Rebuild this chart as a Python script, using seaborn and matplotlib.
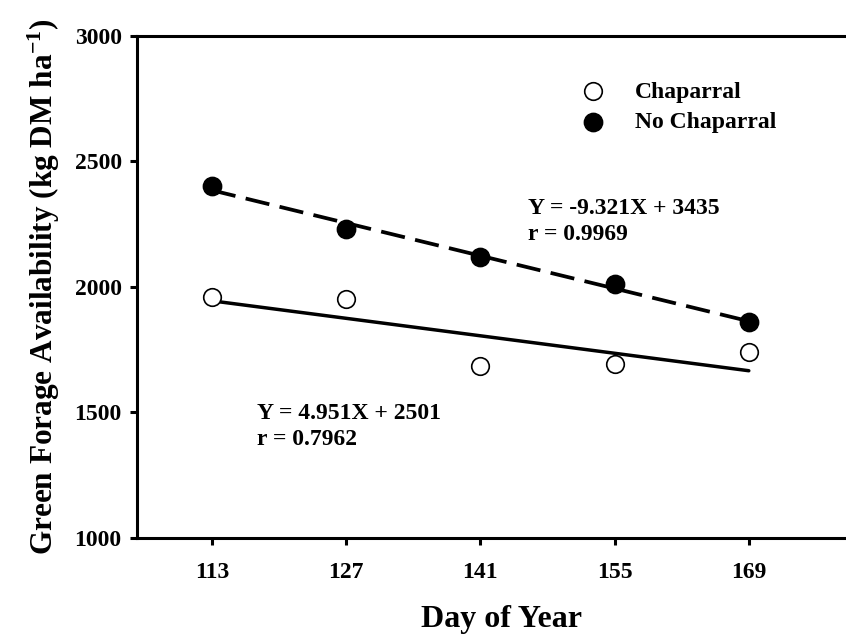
import numpy as np
import pandas as pd
import matplotlib
matplotlib.use("Agg")
import matplotlib.pyplot as plt
import seaborn as sns

# values
day = [113, 127, 141, 155, 169]
chaparral = [1960, 1950, 1684, 1692, 1741]
no_chaparral = [2402, 2230, 2119, 2010, 1860]

eq_chap = "Y = 4.951X + 2501\nr = 0.7962"
eq_nochap = "Y = -9.321X + 3435\nr = 0.9969"

sns.set_style("ticks")
plt.rcParams['font.family'] = ['Liberation Serif', 'DejaVu Serif']
plt.rcParams['font.weight'] = 'bold'
plt.rcParams['axes.linewidth'] = 2.2
for k in ['text.color', 'axes.labelcolor', 'xtick.color', 'ytick.color',
          'axes.edgecolor']:
    plt.rcParams[k] = 'black'
plt.rcParams['mathtext.fontset'] = 'custom'
plt.rcParams['mathtext.rm'] = 'Liberation Serif:bold'
plt.rcParams['mathtext.bf'] = 'Liberation Serif:bold'
plt.rcParams['mathtext.default'] = 'bf'

df = pd.DataFrame({"day": day, "chap": chaparral, "nochap": no_chaparral})

fig = plt.figure(figsize=(8.46, 6.39), dpi=100)
ax = fig.add_axes([0.1619, 0.158, 0.8615, 0.786])

# regression lines
sns.regplot(data=df, x="day", y="chap", ci=None, scatter=False, ax=ax,
            line_kws=dict(color="black", lw=2.5))
sns.regplot(data=df, x="day", y="nochap", ci=None, scatter=False, ax=ax,
            line_kws=dict(color="black", lw=2.7, dashes=(6.5, 2.8)))

# points
sns.scatterplot(data=df, x="day", y="chap", ax=ax, s=160, marker="o",
                facecolor="white", edgecolor="black", linewidth=1.2,
                label="Chaparral", zorder=5)
sns.scatterplot(data=df, x="day", y="nochap", ax=ax, s=175, marker="o",
                color="black", edgecolor="black", linewidth=1.0,
                label="No Chaparral", zorder=5)

ax.text(117.7, 1444, eq_chap, fontsize=17, fontweight="bold", va="center",
        ha="left", linespacing=1.3)
ax.text(145.95, 2261, eq_nochap, fontsize=17, fontweight="bold", va="center",
        ha="left", linespacing=1.3)

ax.set_xlim(105.2, 181.2)
ax.set_ylim(1000, 3000)
ax.set_xticks(day)
ax.set_yticks([1000, 1500, 2000, 2500, 3000])
ax.tick_params(axis="both", direction="out", length=5, width=2.2,
               labelsize=17)
ax.tick_params(axis="x", pad=12)
ax.tick_params(axis="y", pad=6)
for lab in ax.get_xticklabels() + ax.get_yticklabels():
    lab.set_fontweight("bold")

ax.set_xlabel("Day of Year", fontsize=23, fontweight="bold", labelpad=16)
ax.set_ylabel("Green Forage Availability (kg DM ha$^{-1}$)",
              fontsize=22.5, fontweight="bold", labelpad=9)

leg = ax.legend(loc="upper left", bbox_to_anchor=(0.609, 0.91),
                frameon=False, fontsize=17, handlelength=1.0,
                handletextpad=1.3, borderpad=0, borderaxespad=0,
                labelspacing=0.4)
for t in leg.get_texts():
    t.set_fontweight("bold")

sns.despine(ax=ax, right=True, top=False)

fig.savefig("out.png", dpi=100)
